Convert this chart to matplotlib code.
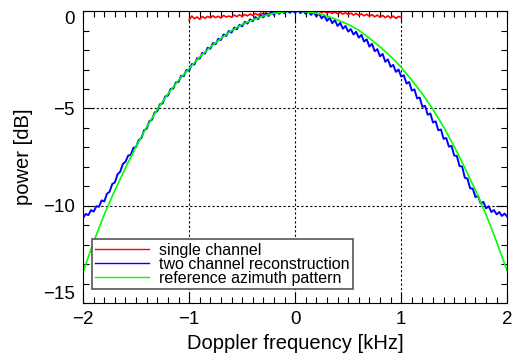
import numpy as np
import matplotlib
matplotlib.use("Agg")
import matplotlib.pyplot as plt
from matplotlib.ticker import MultipleLocator

plt.rcParams['font.family'] = ['Liberation Sans', 'DejaVu Sans']

# frequency grids [kHz]
f_two = np.linspace(-2.0, 2.0, 161)     # step 0.025
f_ref = np.linspace(-2.0, 2.0, 41)      # step 0.1
f_single = np.linspace(-1.0, 1.0, 81)   # step 0.025

# single channel
single_db = [-0.45, -0.25, -0.38, -0.30, -0.42, -0.28, -0.36, -0.27, -0.34, -0.24,
             -0.33, -0.26, -0.35, -0.22, -0.30, -0.25, -0.31, -0.20, -0.28, -0.19,
             -0.27, -0.17, -0.24, -0.15, -0.22, -0.12, -0.20, -0.10, -0.16, -0.08,
             -0.14, -0.05, -0.11, -0.04, -0.09, -0.02, -0.07, 0.00, -0.05, 0.01,
             -0.04, 0.02, -0.03, 0.03, -0.05, 0.01, -0.06, 0.05, -0.04, 0.02,
             -0.08, -0.01, -0.10, -0.03, -0.12, -0.04, -0.13, -0.06, -0.15, -0.08,
             -0.17, -0.10, -0.20, -0.12, -0.21, -0.14, -0.24, -0.16, -0.26, -0.18,
             -0.29, -0.20, -0.31, -0.22, -0.33, -0.24, -0.35, -0.25, -0.37, -0.27,
             -0.33]

# two channel reconstruction
two_db = [-10.62, -10.42, -10.48, -10.22, -10.30, -10.02, -10.05, -9.72, -9.78, -9.38,
          -9.28, -8.88, -8.80, -8.38, -8.25, -7.85, -7.74, -7.42, -7.38, -7.02,
          -6.98, -6.62, -6.52, -6.12, -6.04, -5.65, -5.58, -5.20, -5.14, -4.78,
          -4.74, -4.38, -4.34, -4.00, -3.98, -3.66, -3.64, -3.32, -3.34, -3.02,
          -3.06, -2.72, -2.74, -2.42, -2.44, -2.14, -2.18, -1.88, -1.93, -1.64,
          -1.70, -1.42, -1.48, -1.20, -1.27, -1.02, -1.10, -0.84, -0.93, -0.70,
          -0.78, -0.55, -0.64, -0.42, -0.52, -0.30, -0.41, -0.20, -0.32, -0.12,
          -0.25, -0.06, -0.19, 0.00, -0.14, 0.02, -0.11, 0.04, -0.09, 0.03,
          -0.08, 0.04, -0.10, 0.02, -0.14, -0.01, -0.19, -0.05, -0.27, -0.12,
          -0.37, -0.22, -0.50, -0.34, -0.62, -0.46, -0.76, -0.60, -0.90, -0.76,
          -1.05, -0.92, -1.20, -1.06, -1.36, -1.22, -1.56, -1.45, -1.82, -1.68,
          -2.06, -1.95, -2.32, -2.20, -2.60, -2.48, -2.86, -2.76, -3.12, -3.00,
          -3.36, -3.30, -3.72, -3.64, -4.08, -4.02, -4.48, -4.44, -4.92, -4.86,
          -5.32, -5.26, -5.72, -5.66, -6.12, -6.08, -6.56, -6.52, -6.96, -6.92,
          -7.42, -7.44, -7.96, -7.98, -8.56, -8.60, -9.10, -9.12, -9.55, -9.50,
          -9.88, -9.80, -10.13, -10.02, -10.32, -10.22, -10.44, -10.32, -10.52, -10.40,
          -10.56]

# reference azimuth pattern
ref_db = [-13.40, -11.85, -10.45, -9.20, -8.05, -6.95, -5.95, -5.05, -4.25, -3.55,
          -2.95, -2.35, -1.85, -1.40, -1.00, -0.68, -0.45, -0.25, -0.11, -0.03,
          0.00,
          -0.03, -0.11, -0.25, -0.45, -0.68, -0.98, -1.39, -1.83, -2.32, -2.88,
          -3.55, -4.25, -5.05, -5.95, -6.95, -8.05, -9.20, -10.45, -11.85, -13.35]

fig = plt.figure(figsize=(5.16, 3.6), dpi=100)
ax = fig.add_axes([0.161, 0.158, 0.822, 0.811])

ax.plot(f_single, single_db, color='#ff0000', lw=1.2, label='single channel')
ax.plot(f_two, two_db, color='#0000ff', lw=1.4, label='two channel reconstruction')
ax.plot(f_ref, ref_db, color='#00ff00', lw=1.2, label='reference azimuth pattern')

ax.set_xlim(-2, 2)
ax.set_ylim(-15, 0)
ax.set_xticks([-2, -1, 0, 1, 2])
ax.set_yticks([-15, -10, -5, 0])
ax.xaxis.set_minor_locator(MultipleLocator(0.1))
ax.yaxis.set_minor_locator(MultipleLocator(1))
ax.tick_params(which='both', direction='in', top=True, right=True,
               labelsize=13.5, width=0.8, color='black')
ax.tick_params(which='major', length=8, pad=6)
ax.tick_params(which='minor', length=4)

# IDL style: end labels kept inside the axis range
ylabels = ax.get_yticklabels()
ylabels[0].set_va('bottom')
ylabels[-1].set_va('top')

for gx in [-1, 0, 1]:
    ax.axvline(gx, color='black', lw=0.8, ls=(0, (2, 2)), zorder=0.5)
for gy in [-5, -10]:
    ax.axhline(gy, color='black', lw=0.8, ls=(0, (2, 2)), zorder=0.5)

ax.set_xlabel('Doppler frequency [kHz]', fontsize=14.5, labelpad=4)
ax.set_ylabel('power [dB]', fontsize=14.5, labelpad=7)

leg = ax.legend(loc='lower left', bbox_to_anchor=(0.021, 0.048), borderaxespad=0,
                fontsize=11.5, labelspacing=-0.05, handlelength=3.4, handletextpad=0.6,
                fancybox=False, framealpha=1, edgecolor='#555555',
                borderpad=0.2)
leg.get_frame().set_linewidth(1.2)
for h in leg.get_lines():
    h.set_linewidth(1.0)

plt.savefig('out.png', dpi=100)
